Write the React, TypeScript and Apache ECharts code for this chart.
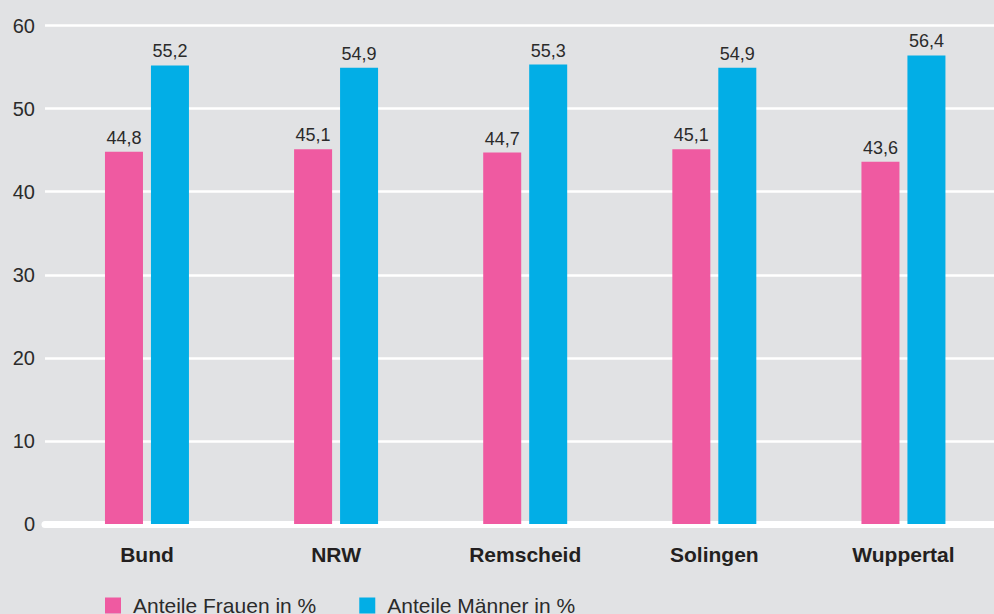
import React, { useEffect, useRef } from "react";
import * as echarts from "echarts";

const categories = ["Bund", "NRW", "Remscheid", "Solingen", "Wuppertal"];
const frauen = [44.8, 45.1, 44.7, 45.1, 43.6];
const maenner = [55.2, 54.9, 55.3, 54.9, 56.4];
const seriesNames = ["Anteile Frauen in %", "Anteile Männer in %"];

const FONT = "'Liberation Sans', Arial, Helvetica, sans-serif";
const PINK = "#ef5aa1";
const BLUE = "#02aee6";
const TEXT = "#2b2b2b";

const fmt = (v: number) => v.toFixed(1).replace(".", ",");

export default function App() {
  const ref = useRef<HTMLDivElement>(null);
  useEffect(() => {
    if (!ref.current) return;
    const chart = echarts.init(ref.current, undefined, { renderer: "svg" });
    const top = 25.5;
    const bottom = 90;
    chart.setOption({
      animation: false,
      backgroundColor: "#e1e2e4",
      textStyle: { fontFamily: FONT },
      grid: [
        { left: 45, right: 0, top, bottom },
        { left: 52.4, width: 945.6, top, bottom },
      ],
      legend: {
        data: seriesNames,
        left: 105,
        top: 595,
        padding: 0,
        itemWidth: 16,
        itemHeight: 16,
        itemGap: 43,
        icon: "rect",
        textStyle: {
          fontSize: 21,
          color: TEXT,
          fontFamily: FONT,
          padding: [0, 0, 0, 7],
        },
      },
      xAxis: [
        {
          gridIndex: 0,
          type: "category",
          data: categories,
          axisLine: { show: true, lineStyle: { color: "#ffffff", width: 7 } },
          axisTick: { show: false },
          axisLabel: { show: false },
          splitLine: { show: false },
        },
        {
          gridIndex: 1,
          type: "category",
          data: categories,
          axisLine: { show: false },
          axisTick: { show: false },
          axisLabel: {
            margin: 20,
            fontSize: 21,
            fontWeight: "bold",
            color: "#231f20",
            fontFamily: FONT,
          },
        },
      ],
      yAxis: [
        {
          gridIndex: 0,
          type: "value",
          min: 0,
          max: 60,
          interval: 10,
          axisLine: { show: false },
          axisTick: { show: false },
          axisLabel: {
            fontSize: 20,
            color: TEXT,
            margin: 10,
            fontFamily: FONT,
          },
          splitLine: { lineStyle: { color: "#ffffff", width: 2.5 } },
        },
        {
          gridIndex: 1,
          type: "value",
          min: 0,
          max: 60,
          interval: 10,
          show: false,
          splitLine: { show: false },
        },
      ],
      series: [
        {
          name: seriesNames[0],
          type: "bar",
          xAxisIndex: 1,
          yAxisIndex: 1,
          data: frauen,
          barWidth: 38,
          barGap: "21%",
          itemStyle: { color: PINK },
          label: {
            show: true,
            position: "top",
            distance: 5,
            fontSize: 18,
            color: TEXT,
            fontFamily: FONT,
            formatter: (p: any) => fmt(p.value),
          },
        },
        {
          name: seriesNames[1],
          type: "bar",
          xAxisIndex: 1,
          yAxisIndex: 1,
          data: maenner,
          barWidth: 38,
          barGap: "21%",
          itemStyle: { color: BLUE },
          label: {
            show: true,
            position: "top",
            distance: 5,
            fontSize: 18,
            color: TEXT,
            fontFamily: FONT,
            formatter: (p: any) => fmt(p.value),
          },
        },
      ],
    });
    return () => chart.dispose();
  }, []);
  return (
    <div
      style={{
        position: "fixed",
        left: 0,
        top: 0,
        width: 994,
        height: 614,
        overflow: "hidden",
      }}
    >
      <div ref={ref} style={{ width: 1004, height: 614 }} />
    </div>
  );
}
